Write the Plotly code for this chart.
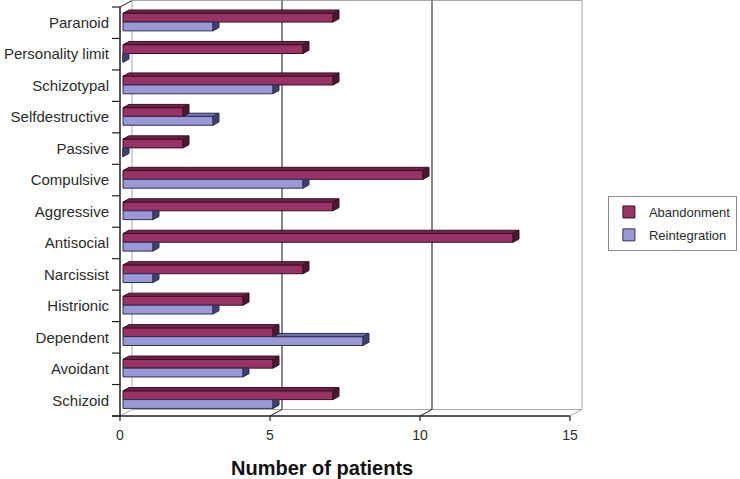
import plotly.graph_objects as go

# ---------------- data ----------------
categories = ["Schizoid", "Avoidant", "Dependent", "Histrionic", "Narcissist",
              "Antisocial", "Aggressive", "Compulsive", "Passive",
              "Selfdestructive", "Schizotypal", "Personality limit", "Paranoid"]
abandonment = [7, 5, 5, 4, 6, 13, 7, 10, 2, 2, 7, 6, 7]
reintegration = [5, 4, 8, 3, 1, 1, 1, 6, 0, 3, 5, 0, 3]
x_ticks = [0, 5, 10, 15]
series_names = ["Abandonment", "Reintegration"]

# ---------------- pseudo-3D geometry (in axis units) ----------------
DX = 0.4          # horizontal shift of full depth (value units)
DY = 0.2066       # vertical shift of full depth (category units)
D0, D1 = 0.25, 0.75   # bar front / back depth
BW = 0.28         # bar thickness
XMAX = 15

A_FRONT, A_TOP, A_END = "#993366", "#6e2449", "#4a1830"
R_FRONT, R_TOP, R_END = "#9999d6", "#6f6fa6", "#40406e"
EDGE_A, EDGE_R = "#3a1024", "#2e2e55"

idx = list(range(len(categories)))

def para(v0, v1, y, d0=D0, d1=D1):
    return ([v0 + d0*DX, v1 + d0*DX, v1 + d1*DX, v0 + d1*DX, v0 + d0*DX, None],
            [y + d0*DY, y + d0*DY, y + d1*DY, y + d1*DY, y + d0*DY, None])

def endface(v, yb, yt, clip=False):
    xs = [v + D0*DX, v + D0*DX, v + D1*DX, v + D1*DX, v + D0*DX, None]
    if not clip:
        ys = [yb + D0*DY, yt + D0*DY, yt + D1*DY, yb + D1*DY, yb + D0*DY, None]
    else:
        ys = [yb + D0*DY, yt + D0*DY, yt + D0*DY, yb + D1*DY, yb + D0*DY, None]
    return xs, ys

fig = go.Figure()

fig.add_trace(go.Bar(
    name=series_names[0], y=idx, x=abandonment, orientation="h",
    base=D0*DX, offset=D0*DY - 0.03, width=BW,
    marker=dict(color=A_FRONT, line=dict(color=EDGE_A, width=1)),
    legendgroup="a", legendrank=1))
fig.add_trace(go.Bar(
    name=series_names[1], y=idx, x=reintegration, orientation="h",
    base=D0*DX, offset=D0*DY - 0.03 - BW, width=BW,
    marker=dict(color=R_FRONT, line=dict(color=EDGE_R, width=1)),
    legendgroup="r", legendrank=2))

YS = -0.03  # small downward nudge of the bar pair
rtx, rty, rex, rey = [], [], [], []
for i, a, r in zip(idx, abandonment, reintegration):
    yt = i + YS
    yb = i + YS - BW
    if r > a:
        xs, ys = para(a, r, yt)
        rtx += xs; rty += ys
    xs, ys = endface(r, yb, yt, clip=(a > r))
    rex += xs; rey += ys
fig.add_trace(go.Scatter(x=rtx, y=rty, mode="lines", fill="toself", fillcolor=R_TOP,
                         line=dict(color=EDGE_R, width=1), showlegend=False, hoverinfo="skip"))
fig.add_trace(go.Scatter(x=rex, y=rey, mode="lines", fill="toself", fillcolor=R_END,
                         line=dict(color=EDGE_R, width=1), showlegend=False, hoverinfo="skip"))

atx, aty, aex, aey = [], [], [], []
for i, a in zip(idx, abandonment):
    yb = i + YS
    yt = i + YS + BW
    xs, ys = para(0, a, yt)
    atx += xs; aty += ys
    xs, ys = endface(a, yb, yt)
    aex += xs; aey += ys
fig.add_trace(go.Scatter(x=atx, y=aty, mode="lines", fill="toself", fillcolor=A_TOP,
                         line=dict(color=EDGE_A, width=1), showlegend=False, hoverinfo="skip"))
fig.add_trace(go.Scatter(x=aex, y=aey, mode="lines", fill="toself", fillcolor=A_END,
                         line=dict(color=EDGE_A, width=1), showlegend=False, hoverinfo="skip"))

# ---------------- frame (walls, grid, axes) ----------------
ylo, yhi = -0.5, len(categories) - 0.5
GRAY = "#a8a8a8"
DARK = "#222222"
shapes = []
def line(x0, y0, x1, y1, color, w=1):
    shapes.append(dict(type="line", xref="x", yref="y", x0=x0, y0=y0, x1=x1, y1=y1,
                       line=dict(color=color, width=w), layer="below"))

line(DX, ylo + DY, DX, yhi + DY, GRAY)
line(DX, yhi + DY, XMAX + DX, yhi + DY, GRAY)
line(XMAX + DX, yhi + DY, XMAX + DX, ylo + DY, GRAY)
line(DX, ylo + DY, XMAX + DX, ylo + DY, GRAY)
line(0, ylo, DX, ylo + DY, GRAY)
line(XMAX, ylo, XMAX + DX, ylo + DY, GRAY)
line(0, yhi, DX, yhi + DY, DARK)
for t in x_ticks[1:-1]:
    line(t + DX, ylo + DY, t + DX, yhi + DY, "#111111")
    line(t, ylo, t + DX, ylo + DY, DARK)
line(0, ylo, 0, yhi, DARK, 1.5)
line(-0.267, ylo, XMAX, ylo, DARK, 1.5)
for k in range(len(categories) + 1):
    yb = ylo + k
    line(-0.267, yb, 0, yb, DARK, 1.2)
for t in x_ticks:
    line(t, ylo, t, ylo - 5/31.46, DARK, 1.2)

fig.update_layout(
    width=740, height=479,
    margin=dict(l=110, r=154, t=0, b=57, autoexpand=False),
    plot_bgcolor="white", paper_bgcolor="white",
    barmode="overlay",
    shapes=shapes,
    font=dict(family="Liberation Sans, Arial, sans-serif", size=15, color="#2b2b2b"),
    showlegend=True,
    legend=dict(x=1.046, y=0.5355, xanchor="left", yanchor="top",
                bordercolor="#8c8c8c", borderwidth=1, bgcolor="white",
                font=dict(size=13, color="#2b2b2b"), tracegroupgap=3,
                itemclick=False),
    annotations=[dict(text="<b>Number of patients</b>", xref="paper", yref="paper",
                      x=0.445, y=-0.109, xanchor="center", yanchor="middle",
                      showarrow=False, font=dict(size=20, color="#111111"))],
)
fig.update_xaxes(range=[-10/30, 15.533], tickvals=x_ticks, ticktext=[str(t) for t in x_ticks],
                 showgrid=False, zeroline=False, showline=False, ticks="",
                 tickfont=dict(size=14), ticklabelstandoff=3, fixedrange=True)
fig.update_yaxes(range=[-0.6907, 12.7225], tickvals=idx, ticktext=categories,
                 showgrid=False, zeroline=False, showline=False, ticks="",
                 fixedrange=True)

fig.write_html("out.html", config={"displayModeBar": False},
               post_script="document.body.style.margin='0';")
